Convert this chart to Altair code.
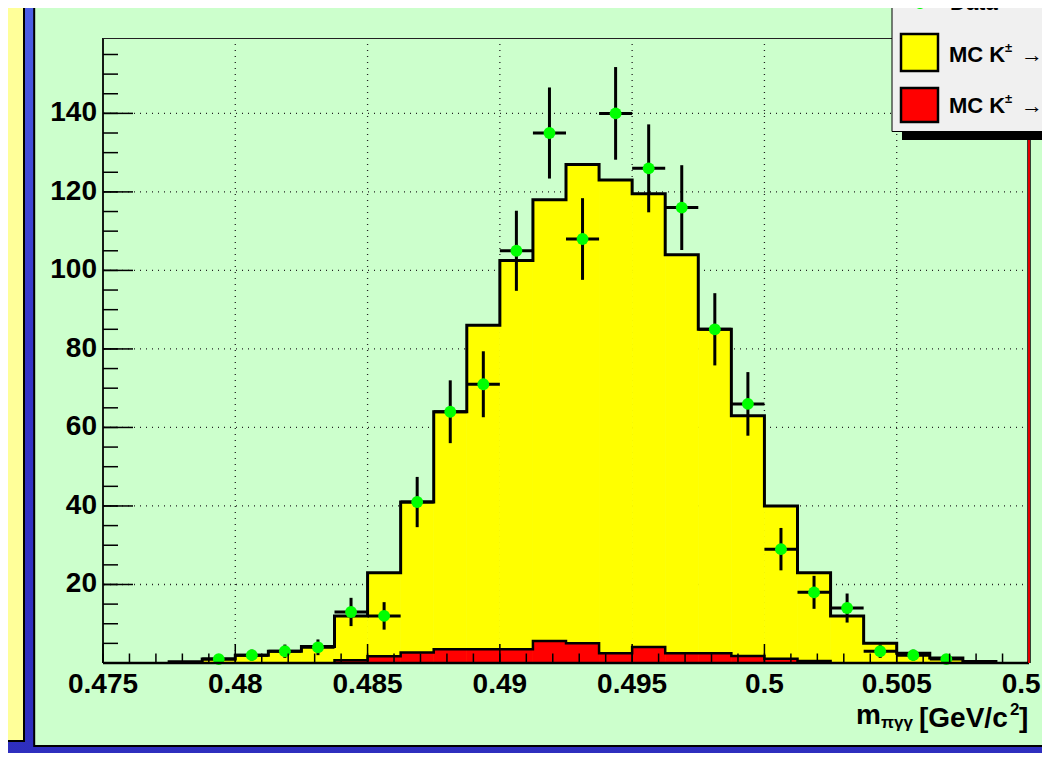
import altair as alt
import pandas as pd

FONT = "Liberation Sans"

# ---------------- data ----------------
bin_width = 0.00125
bin_starts = [0.4775, 0.47875, 0.48, 0.48125, 0.4825, 0.48375, 0.485, 0.48625, 0.4875,
              0.48875, 0.49, 0.49125, 0.4925, 0.49375, 0.495, 0.49625, 0.4975, 0.49875,
              0.5, 0.50125, 0.5025, 0.50375, 0.505, 0.50625, 0.5075]
mc_total = [0.3, 1.0, 2.0, 3.0, 4.2, 12, 23, 41, 64, 86, 102.5, 118, 127, 123, 119.5,
            104, 85, 63, 40, 23, 12, 5, 2.5, 1.3, 0.4]

red_starts = [0.48375, 0.485, 0.48625, 0.4875, 0.48875, 0.49, 0.49125, 0.4925, 0.49375,
              0.495, 0.49625, 0.4975, 0.49875, 0.5, 0.50125]
mc_red = [0.7, 1.7, 2.7, 3.5, 3.5, 3.5, 5.6, 5.0, 2.5, 4.1, 2.5, 2.5, 1.8, 1.1, 0.5]

data_x = [0.479375, 0.480625, 0.481875, 0.483125, 0.484375, 0.485625, 0.486875, 0.488125,
          0.489375, 0.490625, 0.491875, 0.493125, 0.494375, 0.495625, 0.496875, 0.498125,
          0.499375, 0.500625, 0.501875, 0.503125, 0.504375, 0.505625, 0.506875]
data_y = [1, 2, 3, 4, 13, 12, 41, 64, 71, 105, 135, 108, 140, 126, 116, 85, 66, 29, 18, 14, 3, 2, 1]
data_err = [1.0, 1.4, 1.7, 2.0, 3.6, 3.5, 6.4, 8.0, 8.4, 10.2, 11.6, 10.4, 11.8, 11.2, 10.8,
            9.2, 8.1, 5.4, 4.2, 3.7, 1.7, 1.4, 1.0]

x_ticks = [0.475, 0.48, 0.485, 0.49, 0.495, 0.5, 0.505, 0.51]
x_tick_labels = ["0.475", "0.48", "0.485", "0.49", "0.495", "0.5", "0.505", "0.51"]
y_ticks = [20, 40, 60, 80, 100, 120, 140]
y_tick_labels = ["20", "40", "60", "80", "100", "120", "140"]
x_minor = [0.475 + 0.001 * i for i in range(36)]
y_minor = [5 * i for i in range(32)]

# ---------------- geometry ----------------
W, H = 926, 625
XMIN, XMAX = 0.475, 0.51
YMAX = 159.2

xs = alt.Scale(domain=[XMIN, XMAX], nice=False, zero=False)
ys = alt.Scale(domain=[0, YMAX], nice=False, zero=False)


def X(f, **kw):
    kw.setdefault("axis", None)
    return alt.X(f, type="quantitative", scale=xs, **kw)


def Y(f, **kw):
    kw.setdefault("axis", None)
    return alt.Y(f, type="quantitative", scale=ys, **kw)


def step_df(starts, vals, width):
    end = starts[-1] + width
    xv = [starts[0]] + list(starts) + [end, end]
    yv = [0] + list(vals) + [vals[-1], 0]
    return pd.DataFrame({"x": xv, "y": yv, "i": list(range(len(xv)))})


def bins_df(starts, vals, width):
    return pd.DataFrame({"x": list(starts), "x2": [s + width for s in starts],
                         "y": list(vals), "z": [0] * len(vals)})


one = pd.DataFrame({"a": [0]})

# ---------------- background decorations ----------------
bg = alt.Chart(one).mark_rect(
    color=alt.Gradient(gradient="linear",
                       stops=[alt.GradientStop(color="#4d61e6", offset=0),
                              alt.GradientStop(color="#3535c8", offset=0.45),
                              alt.GradientStop(color="#2e2ebe", offset=1)],
                       x1=0, x2=0, y1=0, y2=1)
).encode(x=alt.value(-110), x2=alt.value(1000), y=alt.value(-40), y2=alt.value(730))

yellow_panel = alt.Chart(one).mark_rect(fill="#ffff99", stroke="black", strokeWidth=2).encode(
    x=alt.value(-110), x2=alt.value(-79), y=alt.value(-40), y2=alt.value(703))

pad = alt.Chart(one).mark_rect(fill="#ccffcc", stroke="black", strokeWidth=2).encode(
    x=alt.value(-68.8), x2=alt.value(1000), y=alt.value(-40), y2=alt.value(708))

# ---------------- grid ----------------
xgrid = alt.Chart(pd.DataFrame({"g": x_ticks[1:-1]})).mark_rule(
    color="#222222", strokeDash=[1, 5], strokeWidth=1.3).encode(x=X("g"))
ygrid = alt.Chart(pd.DataFrame({"g": y_ticks})).mark_rule(
    color="#222222", strokeDash=[1, 5], strokeWidth=1.3).encode(y=Y("g"))

# ---------------- histograms ----------------
ybins = bins_df(bin_starts, mc_total, bin_width)
rbins = bins_df(red_starts, mc_red, bin_width)
ydf = step_df(bin_starts, mc_total, bin_width)
rdf = step_df(red_starts, mc_red, bin_width)

yellow_fill = alt.Chart(ybins).mark_rect(color="#ffff00", stroke="#ffff00", strokeWidth=0.6).encode(
    x=X("x"), x2=alt.X2("x2"), y=Y("y"), y2=alt.Y2("z"))
yellow_line = alt.Chart(ydf).mark_line(interpolate="step-after", color="black", strokeWidth=3).encode(
    x=X("x"), y=Y("y"), order=alt.Order("i:Q"))
red_fill = alt.Chart(rbins).mark_rect(color="#ff0000", stroke="#ff0000", strokeWidth=0.6).encode(
    x=X("x"), x2=alt.X2("x2"), y=Y("y"), y2=alt.Y2("z"))
red_line = alt.Chart(rdf).mark_line(interpolate="step-after", color="black", strokeWidth=2.5).encode(
    x=X("x"), y=Y("y"), order=alt.Order("i:Q"))

# ---------------- data points ----------------
ddf = pd.DataFrame({"x": data_x, "y": data_y, "e": data_err})
ddf["lo"] = ddf["y"] - ddf["e"]
ddf["hi"] = ddf["y"] + ddf["e"]
ddf["xl"] = ddf["x"] - bin_width / 2
ddf["xh"] = ddf["x"] + bin_width / 2

vbar = alt.Chart(ddf).mark_rule(color="black", strokeWidth=3).encode(
    x=X("x"), y=Y("lo"), y2=alt.Y2("hi"))
hbar = alt.Chart(ddf).mark_rule(color="black", strokeWidth=3).encode(
    x=X("xl"), x2=alt.X2("xh"), y=Y("y"))
pts = alt.Chart(ddf).mark_point(filled=True, shape="circle", size=140, color="#00ff00", opacity=1).encode(
    x=X("x"), y=Y("y"))

# ---------------- ticks ----------------
xmaj = alt.Chart(pd.DataFrame({"t": x_ticks})).mark_rule(color="black", strokeWidth=1.5).encode(
    x=X("t"), y=alt.value(H), y2=alt.value(H - 19))
xmin_t = alt.Chart(pd.DataFrame({"t": x_minor})).mark_rule(color="black", strokeWidth=1.5).encode(
    x=X("t"), y=alt.value(H), y2=alt.value(H - 9.5))
ymaj = alt.Chart(pd.DataFrame({"t": [0] + y_ticks})).mark_rule(color="black", strokeWidth=1.5).encode(
    y=Y("t"), x=alt.value(0), x2=alt.value(30))
ymin_t = alt.Chart(pd.DataFrame({"t": y_minor})).mark_rule(color="black", strokeWidth=1.5).encode(
    y=Y("t"), x=alt.value(0), x2=alt.value(15))

# ---------------- tick labels ----------------
xlab = alt.Chart(pd.DataFrame({"v": x_ticks, "s": x_tick_labels})).mark_text(
    font=FONT, fontSize=28, fontWeight="bold", color="black", align="center", baseline="top"
).encode(x=X("v"), y=alt.value(H + 8), text="s:N")
ylab = alt.Chart(pd.DataFrame({"v": y_ticks, "s": y_tick_labels})).mark_text(
    font=FONT, fontSize=28, fontWeight="bold", color="black", align="right", baseline="middle"
).encode(y=Y("v"), x=alt.value(-6), text="s:N")

# ---------------- frame ----------------
frame_left = alt.Chart(one).mark_rule(color="black", strokeWidth=1.8).encode(
    x=alt.value(0), y=alt.value(0), y2=alt.value(H))
frame_bottom = alt.Chart(one).mark_rule(color="black", strokeWidth=2.5).encode(
    x=alt.value(0), x2=alt.value(W), y=alt.value(H))
frame_top = alt.Chart(one).mark_rule(color="#222222", strokeWidth=1.2).encode(
    x=alt.value(0), x2=alt.value(W), y=alt.value(0.5))
frame_right_b = alt.Chart(one).mark_rule(color="black", strokeWidth=3.5).encode(
    x=alt.value(W), y=alt.value(0), y2=alt.value(H))
frame_right = alt.Chart(one).mark_rule(color="#ff0000", strokeWidth=1.8).encode(
    x=alt.value(W), y=alt.value(0), y2=alt.value(H))

# ---------------- legend (pixel placed) ----------------
leg_shadow = alt.Chart(one).mark_rect(fill="black").encode(
    x=alt.value(799), x2=alt.value(1000), y=alt.value(-60), y2=alt.value(102))
leg_box = alt.Chart(one).mark_rect(fill="#f0f0f0", stroke="black", strokeWidth=1).encode(
    x=alt.value(789), x2=alt.value(990), y=alt.value(-60), y2=alt.value(93.5))
leg_dot = alt.Chart(one).mark_point(filled=True, shape="circle", size=140, color="#00ff00", opacity=1).encode(
    x=alt.value(817), y=alt.value(-35))
leg_ybox = alt.Chart(one).mark_rect(fill="#ffff00", stroke="black", strokeWidth=2.5).encode(
    x=alt.value(798), x2=alt.value(835), y=alt.value(-4), y2=alt.value(33))
leg_rbox = alt.Chart(one).mark_rect(fill="#ff0000", stroke="black", strokeWidth=2.5).encode(
    x=alt.value(798), x2=alt.value(835), y=alt.value(50), y2=alt.value(84))


def txt(s, x, y, size, align="left"):
    return alt.Chart(one).mark_text(text=s, font=FONT, fontSize=size, fontWeight="bold",
                                    color="black", align=align, baseline="alphabetic").encode(
        x=alt.value(x), y=alt.value(y))


legend_texts = [
    txt("Data", 847, -28.5, 22),
    txt("MC K", 846, 24, 22),
    txt("±", 902, 14, 13),
    txt("→ π±π⁰", 918, 24, 22),
    txt("MC K", 846, 75, 22),
    txt("±", 902, 65, 13),
    txt("→ π±γγ", 918, 75, 22),
]

# ---------------- axis title ----------------
title_texts = [
    txt("m", 753, 686, 28),
    txt("πγγ", 778, 690, 17),
    txt("[GeV/c", 816, 689, 28),
    txt("2", 907, 677, 17),
    txt("]", 916, 689, 28),
]

chart = alt.layer(
    bg, yellow_panel, pad, xgrid, ygrid,
    yellow_fill, yellow_line, red_fill, red_line,
    vbar, hbar, pts,
    xmaj, xmin_t, ymaj, ymin_t, xlab, ylab,
    frame_left, frame_bottom, frame_top, frame_right_b, frame_right,
    leg_shadow, leg_box, leg_dot, leg_ybox, leg_rbox,
    *legend_texts, *title_texts,
).properties(
    width=W, height=H,
    padding={"left": 95, "top": 30, "right": 13, "bottom": 90},
    autosize=alt.AutoSizeParams(type="none"),
).configure(background="#2e2ebe").configure_view(stroke="transparent")

chart.save("out.html", embed_options={"renderer": "svg", "actions": False})
